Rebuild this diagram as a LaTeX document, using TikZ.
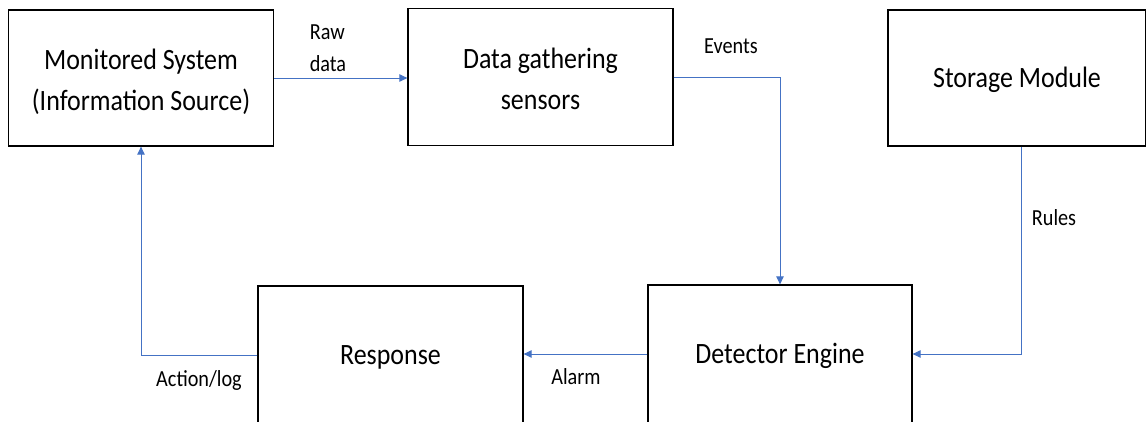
\documentclass[tikz,border=0pt]{standalone}
\usepackage{fontspec}
\setmainfont{Carlito}[FakeStretch=0.88]
\usetikzlibrary{arrows.meta}
\definecolor{linkblue}{HTML}{4472C4}
\tikzset{
  block/.style={draw=black, line width=1.3pt, fill=white, rectangle, align=center,
    inner sep=0pt, font=\fontsize{29.5}{41}\selectfont},
  oneline/.style={text height=19pt, text depth=0pt},
  twoline/.style={text height=65.5pt, text depth=0pt},
  link/.style={draw=linkblue, line width=0.9pt, -{Triangle[length=8pt,width=7.5pt]}},
  tag/.style={font=\fontsize{23}{32}\selectfont, inner sep=0pt, align=left}
}
\begin{document}
\begin{tikzpicture}[x=1pt, y=-1pt]
  \useasboundingbox (0,0) rectangle (1146,421);
  % blocks
  \node[block, twoline, minimum width=265pt, minimum height=136pt] (mon) at (141,78)
    {Monitored System\\(Information Source)};
  \node[block, twoline, minimum width=265pt, minimum height=137pt] (data) at (540.5,77)
    {Data gathering\\sensors};
  \node[block, oneline, minimum width=258pt, minimum height=136pt] (sto) at (1017,78)
    {Storage Module};
  \node[block, oneline, minimum width=265pt, minimum height=138pt] (resp) at (390.5,355)
    {Response};
  \node[block, oneline, minimum width=264pt, minimum height=138pt] (det) at (780,354)
    {Detector Engine};
  % connectors
  \draw[link] (mon.east) -- (mon.east -| data.west);
  \draw[link] (data.east) -| (det.north);
  \draw[link] ([xshift=4pt]sto.south) |- (det.east);
  \draw[link] (det.west) -- (det.west -| resp.east);
  \draw[link] (resp.west) -| (mon.south);
  % connector labels
  \node[tag] (lraw) at (328,48) {Raw\\data};
  \node[tag] (lev) at (731,46) {Events};
  \node[tag] (lrules) at (1054,218) {Rules};
  \node[tag] (lact) at (199,380) {Action/log};
  \node[tag] (lal) at (576,377) {Alarm};
\end{tikzpicture}
\end{document}
